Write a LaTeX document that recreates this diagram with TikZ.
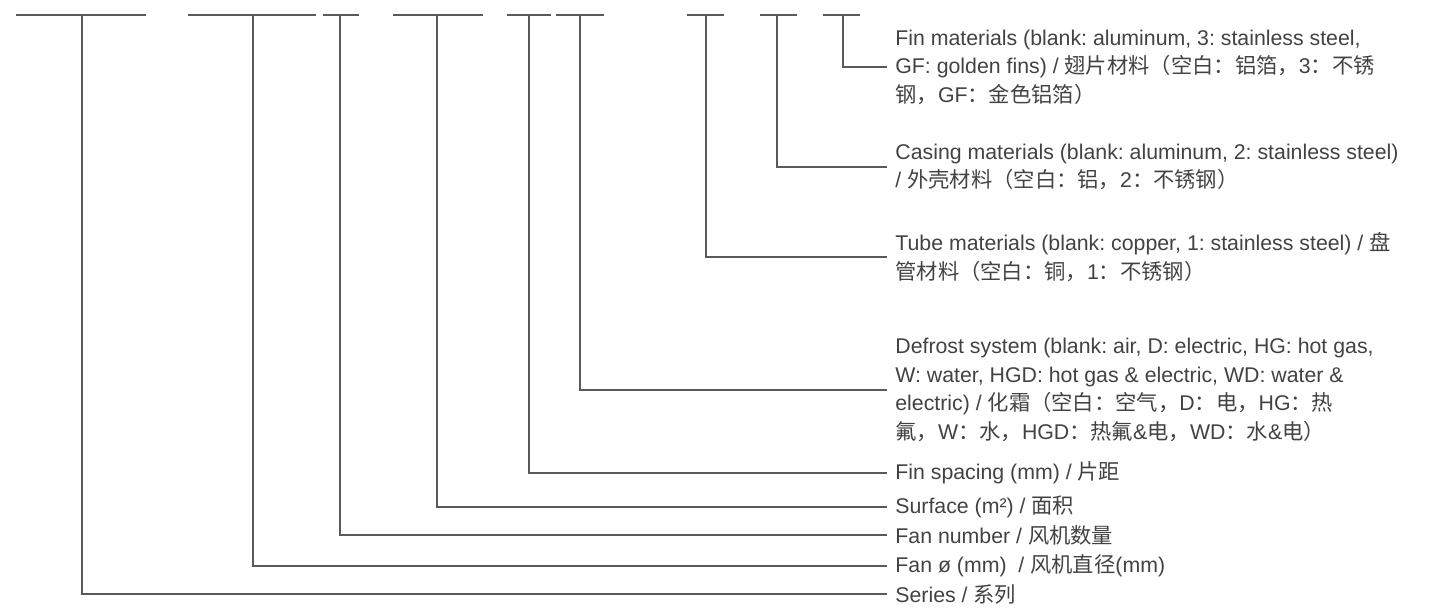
\documentclass[tikz,border=0pt]{standalone}
\usepackage{fontspec}
\setmainfont{Liberation Sans}
\newfontfamily\cjk{Noto Sans CJK SC}
\newcommand\zh[1]{{\cjk #1}}
\frenchspacing
\definecolor{linegray}{RGB}{88,90,93}
\definecolor{textgray}{RGB}{66,66,68}
\tikzset{
  bar/.style={draw=linegray, line width=1pt},
  partlabel/.style={anchor=west, align=left, inner xsep=4pt, inner ysep=0pt, text=textgray, font=\fontsize{10.65}{14.25}\selectfont}
}
\begin{document}
\begin{tikzpicture}[x=0.5pt,y=-0.5pt]
\useasboundingbox (0,0) rectangle (1442,607);
\pgfmathsetmacro\bary{14.7};
\pgfmathsetmacro\endx{887};
\node[partlabel] (finmat) at (\endx,67) {Fin materials (blank: aluminum, 3: stainless steel,\\GF: golden fins) / \zh{翅片材料（空白：铝箔，}3\zh{：不锈}\\\zh{钢，}GF\zh{：金色铝箔）}};
\node[partlabel] (casing) at (\endx,167) {Casing materials (blank: aluminum, 2: stainless steel)\\/ \zh{外壳材料（空白：铝，}2\zh{：不锈钢）}};
\node[partlabel] (tube) at (\endx,257) {Tube materials (blank: copper, 1: stainless steel) / \zh{盘}\\\zh{管材料（空白：铜，}1\zh{：不锈钢）}};
\node[partlabel] (defrost) at (\endx,390) {Defrost system (blank: air, D: electric, HG: hot gas,\\W: water, HGD: hot gas \& electric, WD: water \&\\electric) / \zh{化霜（空白：空气，}D\zh{：电，}HG\zh{：热}\\\zh{氟，}W\zh{：水，}HGD\zh{：热氟}\&\zh{电，}WD\zh{：水}\&\zh{电）}};
\node[partlabel] (finspace) at (\endx,473) {Fin spacing (mm) / \zh{片距}};
\node[partlabel] (surface) at (\endx,507) {Surface (m²) / \zh{面积}};
\node[partlabel] (fannum) at (\endx,535) {Fan number / \zh{风机数量}};
\node[partlabel] (fandia) at (\endx,566) {Fan ø (mm)~ / \zh{风机直径}(mm)};
\node[partlabel] (series) at (\endx,594) {Series / \zh{系列}};
\foreach \xa/\xb/\xs/\n in {16/146/82/series,188/316/253/fandia,323/359/340/fannum,393/483/437/surface,507/551/529/finspace,556/604/580/defrost,687/724/706/tube,760/797/777/casing,823/860/843/finmat}
{
  \draw[bar] (\xa,\bary) -- (\xb,\bary);
  \coordinate (top\n) at (\xs,\bary);
  \draw[bar] (top\n) |- (\n.west);
}
\end{tikzpicture}
\end{document}
